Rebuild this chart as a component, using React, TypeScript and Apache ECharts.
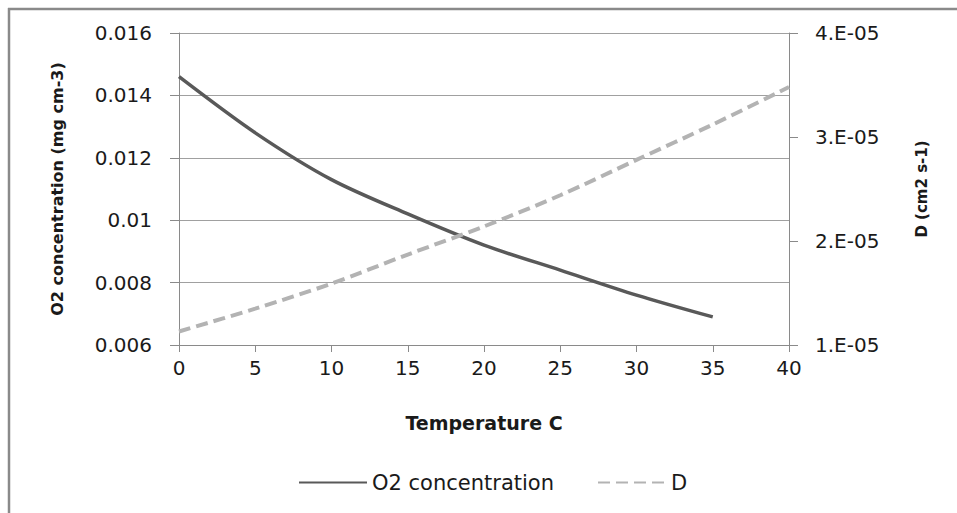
import React, { useEffect, useRef } from "react";
import * as echarts from "echarts";

const o2Temps = [0, 5, 10, 15, 20, 25, 30, 35];
const o2Values = [0.0146, 0.0128, 0.0113, 0.0102, 0.0092, 0.0084, 0.0076, 0.0069];
const dTemps = [0, 5, 10, 15, 20, 25, 30, 35, 40];
const dValues = [1.13e-5, 1.35e-5, 1.59e-5, 1.87e-5, 2.14e-5, 2.44e-5, 2.78e-5, 3.12e-5, 3.48e-5];

const FONT = "DejaVu Sans";

const legendBase = {
  top: 472,
  padding: 0,
  itemWidth: 68,
  itemHeight: 14,
  itemGap: 35,
  itemStyle: { opacity: 0 },
  textStyle: { fontFamily: FONT, fontSize: 21, color: "#1a1a1a" },
};

export default function App() {
  const ref = useRef<HTMLDivElement>(null);
  useEffect(() => {
    document.documentElement.style.overflow = "hidden";
    document.body.style.overflow = "hidden";
    const chart = echarts.init(ref.current!, null, { renderer: "svg" });
    chart.setOption({
      animation: false,
      backgroundColor: "#ffffff",
      graphic: [
        { type: "line", z: 101, shape: { x1: 9, y1: 8, x2: 9, y2: 513 }, style: { stroke: "#8a8a8a", lineWidth: 2.5 } },
        { type: "line", z: 101, shape: { x1: 8, y1: 9, x2: 957, y2: 9 }, style: { stroke: "#8a8a8a", lineWidth: 2.5 } },
      ],
      grid: { left: 179, right: 168, top: 33, bottom: 168, containLabel: false },
      legend: [
        { ...legendBase, left: 298, data: ["O2 concentration"] },
        { ...legendBase, left: 597, data: ["D"] },
      ],
      xAxis: {
        type: "value",
        min: 0,
        max: 40,
        interval: 5,
        name: "Temperature C",
        nameLocation: "middle",
        nameGap: 68,
        nameTextStyle: { fontFamily: FONT, fontSize: 19, fontWeight: "bold", color: "#1a1a1a" },
        axisLine: { show: true, lineStyle: { color: "#8a8a8a", width: 1 } },
        axisTick: { show: true, length: 7, lineStyle: { color: "#8a8a8a" } },
        axisLabel: { fontFamily: FONT, fontSize: 20, color: "#1a1a1a", margin: 13 },
        splitLine: { show: false },
      },
      yAxis: [
        {
          type: "value",
          min: 0.006,
          max: 0.016,
          interval: 0.002,
          name: "O2 concentration (mg cm-3)",
          nameLocation: "middle",
          nameRotate: 90,
          nameGap: 114,
          nameTextStyle: { fontFamily: FONT, fontSize: 16, fontWeight: "bold", color: "#1a1a1a" },
          axisLine: { show: true, lineStyle: { color: "#8a8a8a", width: 1 } },
          axisTick: { show: true, length: 9, lineStyle: { color: "#8a8a8a" } },
          axisLabel: {
            fontFamily: FONT,
            fontSize: 20,
            color: "#1a1a1a",
            margin: 27,
            formatter: (v: number) => String(Number(v.toFixed(3))),
          },
          splitLine: { show: true, lineStyle: { color: "#a0a0a0", width: 1 } },
        },
        {
          type: "value",
          position: "right",
          min: 1e-5,
          max: 4e-5,
          interval: 1e-5,
          name: "D (cm2 s-1)",
          nameLocation: "middle",
          nameRotate: 90,
          nameGap: 125,
          nameTextStyle: { fontFamily: FONT, fontSize: 15, fontWeight: "bold", color: "#1a1a1a" },
          axisLine: { show: true, lineStyle: { color: "#8a8a8a", width: 1 } },
          axisTick: { show: true, length: 9, lineStyle: { color: "#8a8a8a" } },
          axisLabel: {
            fontFamily: FONT,
            fontSize: 20,
            color: "#1a1a1a",
            margin: 26,
            formatter: (v: number) => `${Math.round(v / 1e-5)}.E-05`,
          },
          splitLine: { show: false },
        },
      ],
      series: [
        {
          name: "O2 concentration",
          type: "line",
          yAxisIndex: 0,
          smooth: 0.3,
          symbol: "none",
          lineStyle: { color: "#595959", width: 3.5 },
          itemStyle: { color: "#595959" },
          data: o2Temps.map((t, i) => [t, o2Values[i]]),
        },
        {
          name: "D",
          type: "line",
          yAxisIndex: 1,
          smooth: 0.3,
          symbol: "none",
          lineStyle: { color: "#b3b3b3", width: 4, type: [12, 6] },
          itemStyle: { color: "#b3b3b3" },
          data: dTemps.map((t, i) => [t, dValues[i]]),
        },
      ],
    });
    return () => chart.dispose();
  }, []);
  return (
    <div
      ref={ref}
      style={{ position: "absolute", left: 0, top: 0, width: 957, height: 513 }}
    />
  );
}
